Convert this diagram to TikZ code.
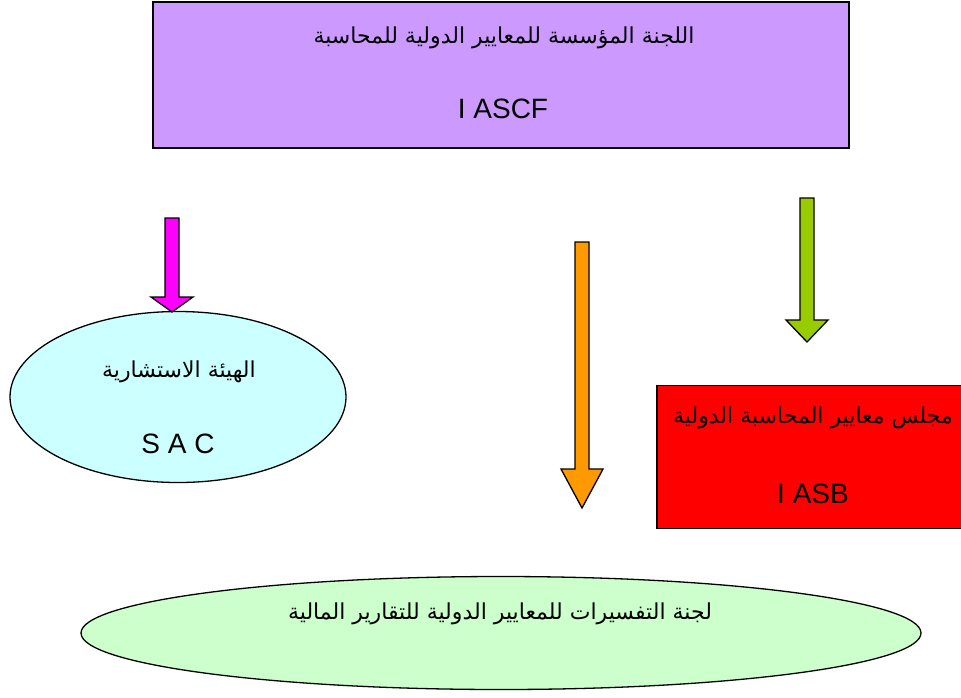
\documentclass[tikz,border=0pt]{standalone}
\usepackage{fontspec}
\setmainfont{Liberation Sans}
\newfontfamily\arabicfont[Script=Arabic]{DejaVu Sans}
\TeXXeTstate=1
\usetikzlibrary{shapes.geometric}
\definecolor{lav}{HTML}{CC99FF}
\definecolor{lcyan}{HTML}{CCFFFF}
\definecolor{lgreen}{HTML}{CCFFCC}
\definecolor{mag}{HTML}{FF00FF}
\definecolor{orng}{HTML}{FF9900}
\definecolor{olive}{HTML}{99CC00}
\tikzset{
  box/.style={draw=black, line width=1.5pt, inner sep=0pt},
  oval/.style={ellipse, draw=black, line width=1.3pt, inner sep=0pt},
  ar/.style={font=\fontsize{22}{26}\selectfont\arabicfont},
  la/.style={font=\fontsize{28}{31}\selectfont},
  blockarrow/.style={draw=black, line width=1.3pt, line join=miter}
}
\begin{document}
\begin{tikzpicture}[x=1pt,y=-1pt]
\useasboundingbox (0,0) rectangle (961,697);
\clip (0,0) rectangle (961,697);
% top box
\node[box, fill=lav, minimum width=696pt, minimum height=146pt] (ascf) at (501,75) {};
\node[ar] (ascfar) at (504,38) {\beginR اللجنة المؤسسة للمعايير الدولية للمحاسبة\endR};
\node[la] (ascfen) at (503,109) {I ASCF};
% SAC ellipse
\node[oval, fill=lcyan, minimum width=336pt, minimum height=171pt] (sac) at (178,397) {};
\node[ar] (sacar) at (179,372) {\beginR الهيئة الاستشارية\endR};
\node[la] (sacen) at (178,444) {S A C};
% IASB box
\node[box, fill=red, minimum width=312pt, minimum height=143pt] (iasb) at (813,457) {};
\node[ar] (iasbar) at (813,418) {\beginR مجلس معايير المحاسبة الدولية\endR};
\node[la] (iasben) at (813,494) {I ASB};
% IFRIC ellipse
\node[oval, fill=lgreen, minimum width=840pt, minimum height=113pt] (ifric) at (501,633) {};
\node[ar] (ifricar) at (500,614) {\beginR لجنة التفسيرات للمعايير الدولية للتقارير المالية\endR};
% block arrows
\draw[blockarrow, fill=mag] (165,218) -- (179,218) -- (179,297) -- (193,297) -- (172,312) -- (151,297) -- (165,297) -- cycle;
\draw[blockarrow, fill=orng] (575,242) -- (589,242) -- (589,469) -- (603,469) -- (582,508) -- (561,469) -- (575,469) -- cycle;
\draw[blockarrow, fill=olive] (800,198) -- (814,198) -- (814,320) -- (828,320) -- (807,342) -- (786,320) -- (800,320) -- cycle;
\end{tikzpicture}
\end{document}
